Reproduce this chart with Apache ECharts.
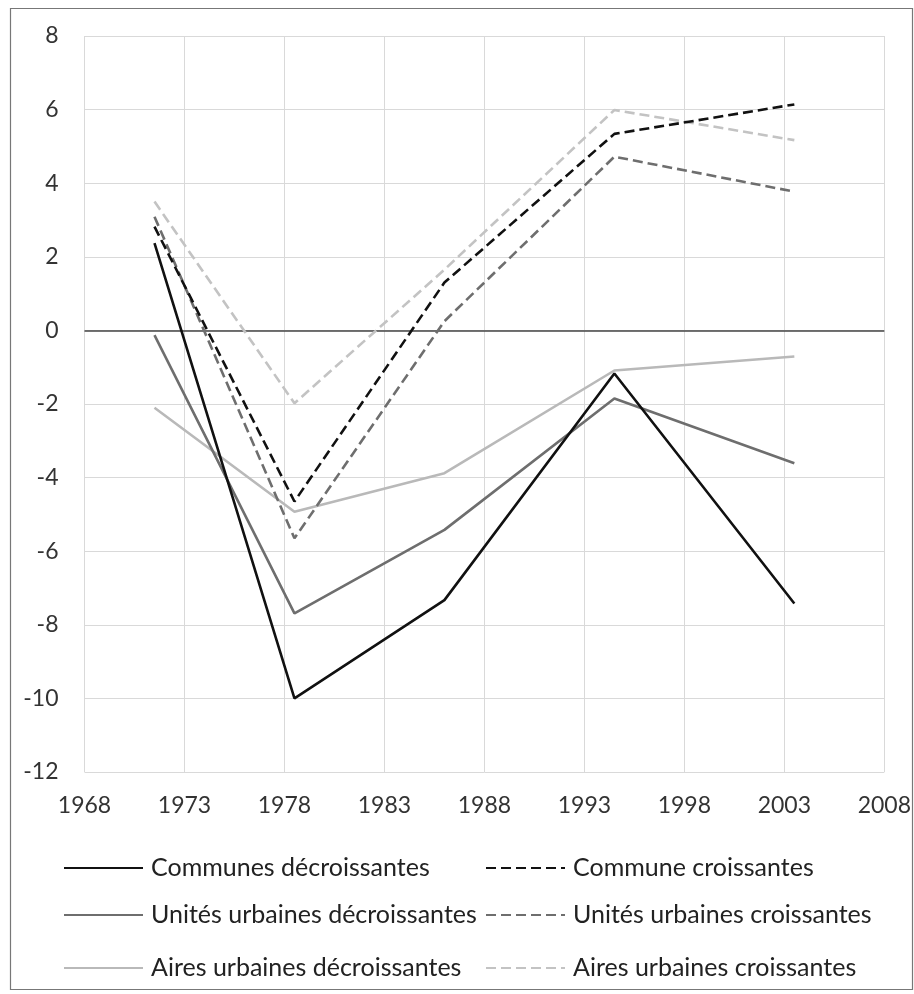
<!DOCTYPE html>
<html>
<head>
<meta charset="utf-8">
<script src="https://cdn.jsdelivr.net/npm/echarts@6/dist/echarts.min.js"></script>
<style>
html,body{margin:0;padding:0;background:#fff;}
#chart{width:914px;height:994px;}
</style>
</head>
<body>
<div id="chart"></div>
<script>
// Data
var years = [1971.5, 1978.5, 1986, 1994.5, 2003.5];
var communesDecroissantes = [2.37, -10.0, -7.33, -1.17, -7.42];
var communeCroissantes = [2.82, -4.65, 1.3, 5.34, 6.14];
var unitesDecroissantes = [-0.13, -7.69, -5.42, -1.85, -3.61];
var unitesCroissantes = [3.09, -5.65, 0.25, 4.72, 3.77];
var airesDecroissantes = [-2.1, -4.93, -3.88, -1.09, -0.71];
var airesCroissantes = [3.5, -1.98, 1.65, 5.99, 5.17];
var seriesNames = [
  'Communes décroissantes', 'Commune croissantes',
  'Unités urbaines décroissantes', 'Unités urbaines croissantes',
  'Aires urbaines décroissantes', 'Aires urbaines croissantes'
];
var xMin = 1968, xMax = 2008, xInterval = 5;
var yMin = -12, yMax = 8, yInterval = 2;

function pairs(vals) {
  return years.map(function (x, i) { return [x, vals[i]]; });
}

var FONT = 'Lato';
var dash = [10, 5];
var styles = [
  {data: communesDecroissantes, color: '#111111', type: 'solid'},
  {data: communeCroissantes, color: '#111111', type: dash},
  {data: unitesDecroissantes, color: '#6e6e6e', type: 'solid'},
  {data: unitesCroissantes, color: '#6e6e6e', type: dash},
  {data: airesDecroissantes, color: '#b9b9b9', type: 'solid'},
  {data: airesCroissantes, color: '#c3c3c3', type: dash}
];

var series = styles.map(function (s, i) {
  var o = {
    name: seriesNames[i],
    type: 'line',
    data: pairs(s.data),
    symbol: 'none',
    smooth: false,
    z: 10 - i,
    lineStyle: {color: s.color, width: 2.6, type: s.type},
    itemStyle: {color: s.color},
    emphasis: {disabled: true},
    animation: false
  };
  if (i === 0) {
    o.markLine = {
      silent: true,
      symbol: 'none',
      label: {show: false},
      lineStyle: {color: '#444', width: 1.6, type: 'solid'},
      data: [{yAxis: 0}],
      animation: false,
      z: 1
    };
  }
  return o;
});

var legendPos = [
  {left: 63, top: 855}, {left: 485, top: 855},
  {left: 63, top: 902}, {left: 485, top: 902},
  {left: 63, top: 955}, {left: 485, top: 955}
];
var legends = seriesNames.map(function (n, i) {
  return {
    data: [n],
    left: legendPos[i].left,
    top: legendPos[i].top,
    itemWidth: 79,
    itemHeight: 18,
    itemGap: 0,
    padding: 0,
    selectedMode: false,
    itemStyle: {opacity: 0},
    textStyle: {fontFamily: FONT, fontSize: 25, lineHeight: 26, color: '#222', padding: [0, 0, 0, 3]}
  };
});

var chart = echarts.init(document.getElementById('chart'), null, {renderer: 'canvas'});
chart.setOption({
  backgroundColor: '#ffffff',
  animation: false,
  grid: {left: 84.5, right: 27, top: 36, bottom: 222, containLabel: false},
  xAxis: {
    type: 'value',
    min: xMin, max: xMax, interval: xInterval,
    axisLine: {show: false},
    axisTick: {show: false},
    axisLabel: {fontFamily: FONT, fontSize: 23, color: '#333', margin: 22,
      formatter: function (v) { return String(v); }},
    splitLine: {show: true, lineStyle: {color: '#d9d9d9', width: 1}}
  },
  yAxis: {
    type: 'value',
    min: yMin, max: yMax, interval: yInterval,
    axisLine: {show: false},
    axisTick: {show: false},
    axisLabel: {fontFamily: FONT, fontSize: 23, color: '#333', margin: 26},
    splitLine: {show: true, lineStyle: {color: '#d9d9d9', width: 1}}
  },
  legend: legends,
  series: series,
  graphic: [{
    type: 'rect',
    shape: {x: 10.5, y: 8.5, width: 902, height: 981},
    style: {fill: 'none', stroke: '#777', lineWidth: 1.2},
    silent: true
  }]
});
</script>
</body>
</html>
